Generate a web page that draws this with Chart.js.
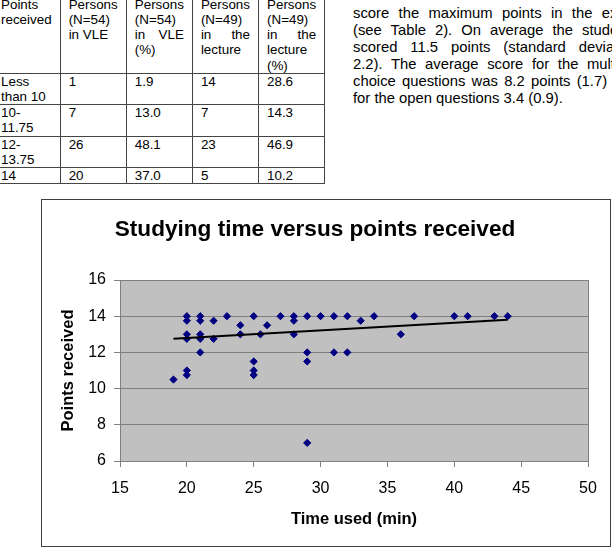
<!DOCTYPE html>
<html>
<head>
<meta charset="utf-8">
<script src="https://cdn.jsdelivr.net/npm/chart.js@4.4.1/dist/chart.umd.min.js"></script>
<style>
  body {
    margin: 0;
    width: 612px;
    height: 551px;
    overflow: hidden;
    background: #fff;
    position: relative;
    font-family: "Liberation Sans", Arial, sans-serif;
    color: #000;
  }
  #tbl {
    position: absolute;
    left: -8px;
    top: -4.3px;
    border-collapse: collapse;
    table-layout: fixed;
    font-size: 13.4px;
    line-height: 15.2px;
  }
  #tbl td {
    border: 1px solid #444;
    padding: 0 8px 0 8px;
    vertical-align: top;
    text-align: justify;
  }
  #para {
    position: absolute;
    left: 353px;
    top: 4.5px;
    width: 285px;
    font-size: 14.8px;
    line-height: 17.1px;
  }
  #para div {
    text-align: justify;
    text-align-last: justify;
  }
  #para div.last {
    text-align-last: left;
  }
  #box {
    position: absolute;
    left: 41px;
    top: 199px;
    width: 568px;
    height: 346px;
    border: 1px solid #404040;
  }
  #chartCanvas {
    position: absolute;
    left: 0;
    top: 0;
  }
</style>
</head>
<body>

<table id="tbl">
  <colgroup>
    <col style="width:67px"><col style="width:65px"><col style="width:66px"><col style="width:66px"><col style="width:65px">
  </colgroup>
  <tr>
    <td>Points received</td>
    <td>Persons (N=54) in VLE</td>
    <td>Persons (N=54) in VLE (%)</td>
    <td>Persons (N=49) in the lecture</td>
    <td>Persons (N=49) in the lecture (%)</td>
  </tr>
  <tr><td>Less than 10</td><td>1</td><td>1.9</td><td>14</td><td>28.6</td></tr>
  <tr><td>10-11.75</td><td>7</td><td>13.0</td><td>7</td><td>14.3</td></tr>
  <tr><td>12-13.75</td><td>26</td><td>48.1</td><td>23</td><td>46.9</td></tr>
  <tr><td>14</td><td>20</td><td>37.0</td><td>5</td><td>10.2</td></tr>
</table>

<div id="para">
  <div>score the maximum points in the exam</div>
  <div>(see Table 2). On average the students</div>
  <div>scored 11.5 points (standard deviation</div>
  <div>2.2). The average score for the multiple</div>
  <div>choice questions was 8.2 points (1.7) and</div>
  <div class="last">for the open questions 3.4 (0.9).</div>
</div>

<div id="box">
  <canvas id="chartCanvas" width="568" height="346"></canvas>
</div>

<script>
// minutes used vs points received, one entry per student
const timeUsed = [
    19,
    20, 20, 20, 20, 20, 20,
    21, 21, 21, 21, 21,
    22, 22,
    23,
    24, 24,
    25, 25, 25, 25,
    25.5,
    26,
    27,
    28, 28, 28,
    29, 29, 29, 29,
    30,
    31, 31,
    32, 32,
    33,
    34,
    36,
    37,
    40,
    41,
    43,
    44
];

const pointsReceived = [
    10.5,
    14, 13.75, 13, 12.75, 11, 10.75,
    14, 13.75, 13, 12.75, 12,
    13.75, 12.75,
    14,
    13.5, 13,
    14, 11.5, 11, 10.75,
    13,
    13.5,
    14,
    14, 13.75, 13,
    14, 12, 11.5, 7,
    14,
    14, 12,
    14, 12,
    13.75,
    14,
    13,
    14,
    14,
    14,
    14,
    14
];

// linear trend line end points
const trendTime = [19, 44];
const trendPoints = [12.75, 13.8];

const xTicks = [15, 20, 25, 30, 35, 40, 45, 50];
const yTicks = [6, 8, 10, 12, 14, 16];

const FONT = "'Liberation Sans', Arial, sans-serif";

const scatterData =
    timeUsed.map((t, i) => ({ x: t, y: pointsReceived[i] }));

const trendData =
    trendTime.map((t, i) => ({ x: t, y: trendPoints[i] }));

const plotArea = {

    id: "plotArea",

    beforeDraw(chart) {

        const { ctx, chartArea: a } = chart;

        ctx.save();
        ctx.fillStyle = "#c0c0c0";
        ctx.fillRect(a.left, a.top, a.right - a.left, a.bottom - a.top);
        ctx.restore();

    },

    beforeDatasetsDraw(chart) {

        const { ctx, chartArea: a } = chart;

        ctx.save();
        ctx.strokeStyle = "#808080";
        ctx.lineWidth = 1;
        ctx.strokeRect(
            Math.round(a.left) + 0.5,
            Math.round(a.top) + 0.5,
            Math.round(a.right - a.left),
            Math.round(a.bottom - a.top)
        );
        ctx.restore();

    }

};

const ctx =
    document
    .getElementById("chartCanvas")
    .getContext("2d");

new Chart(ctx, {

    type: "scatter",

    data: {

        datasets: [

            {
                label: "Students",
                data: scatterData,
                pointStyle: "rectRot",
                pointRadius: 3.6,
                pointBackgroundColor: "#000080",
                pointBorderColor: "#000080",
                pointBorderWidth: 1,
                order: 2
            },

            {
                label: "Trend",
                data: trendData,
                showLine: true,
                borderColor: "#000000",
                borderWidth: 2,
                pointRadius: 0,
                order: 1
            }

        ]

    },

    options: {

        responsive: false,
        animation: false,

        layout: {
            padding: { left: 0, right: 22, top: 0, bottom: 0 }
        },

        plugins: {

            legend: { display: false },
            tooltip: { enabled: false },

            title: {
                display: true,
                text: "Studying time versus points received",
                color: "#000",
                font: { family: FONT, size: 22.6, weight: "bold" },
                padding: { top: 16, bottom: 36.9 }
            }

        },

        scales: {

            x: {
                type: "linear",
                min: 15,
                max: 50,
                afterBuildTicks: scale => {
                    scale.ticks = xTicks.map(v => ({ value: v }));
                },
                afterFit: scale => {
                    scale.height = 85;
                },
                grid: {
                    drawOnChartArea: false,
                    drawTicks: true,
                    tickLength: 6,
                    color: "#808080"
                },
                border: { display: true, color: "#808080" },
                ticks: {
                    color: "#000",
                    padding: 12,
                    font: { family: FONT, size: 16 }
                },
                title: {
                    display: true,
                    text: "Time used (min)",
                    color: "#000",
                    font: { family: FONT, size: 16.5, weight: "bold" },
                    padding: { top: 4, bottom: 17 }
                }
            },

            y: {
                type: "linear",
                min: 6,
                max: 16,
                afterBuildTicks: scale => {
                    scale.ticks = yTicks.map(v => ({ value: v }));
                },
                afterFit: scale => {
                    scale.width = 78;
                },
                grid: {
                    drawOnChartArea: true,
                    drawTicks: true,
                    tickLength: 6,
                    color: "#808080"
                },
                border: { display: true, color: "#808080" },
                ticks: {
                    color: "#000",
                    padding: 8,
                    font: { family: FONT, size: 16 }
                },
                title: {
                    display: true,
                    text: "Points received",
                    color: "#000",
                    font: { family: FONT, size: 16.5, weight: "bold" },
                    padding: { top: 17, bottom: 4 }
                }
            }

        }

    },

    plugins: [plotArea]

});
</script>
</body>
</html>
